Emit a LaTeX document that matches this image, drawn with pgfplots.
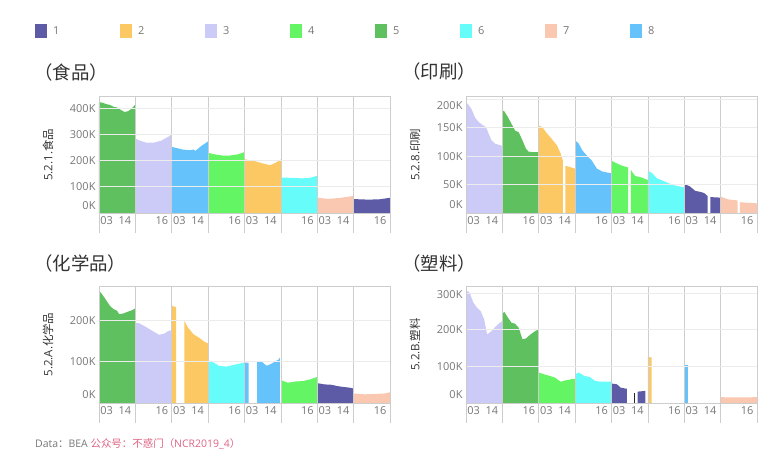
\documentclass[border=0pt]{standalone}
\usepackage{fontspec}
\setmainfont{Open Sans}
\newfontfamily\cjk{Noto Sans CJK SC}
\usepackage{pgfplots}
\pgfplotsset{compat=1.18}
\definecolor{c1}{RGB}{94,91,166}
\definecolor{c2}{RGB}{252,200,100}
\definecolor{c3}{RGB}{204,203,248}
\definecolor{c4}{RGB}{100,245,100}
\definecolor{c5}{RGB}{94,192,94}
\definecolor{c6}{RGB}{102,252,250}
\definecolor{c7}{RGB}{250,200,176}
\definecolor{c8}{RGB}{102,194,250}
\definecolor{sepgray}{RGB}{205,205,205}
\definecolor{hgrid}{RGB}{236,236,236}
\definecolor{tickgray}{RGB}{118,118,118}
\definecolor{titlegray}{RGB}{50,50,50}
\definecolor{pinkred}{RGB}{222,100,130}
\pgfplotsset{panel/.style={
  scale only axis, width=291bp, height=116.5bp, anchor=south west,
  xmin=0, xmax=8, ymin=0, axis on top, clip=false,
  xtick={0,1,2,3,4,5,6,7,8}, xticklabels={,,,,,,,,},
  xmajorgrids, ymajorgrids,
  major x grid style={draw=sepgray, line width=0.6bp},
  major y grid style={draw=hgrid, line width=0.6bp},
  axis line style={draw=sepgray, line width=0.6bp},
  tick style={draw=none}, major tick length=0pt,
  extra x ticks={0.21,0.71,1.73,2.21,2.71,3.73,4.21,4.71,5.73,6.21,6.71,7.73},
  extra x tick labels={03,14,16,03,14,16,03,14,16,03,14,16},
  extra x tick style={grid=none, tick style={draw=none}},
  extra y tick style={grid=none, tick style={draw=none}},
  ticklabel style={font=\fontsize{11}{13}\selectfont, text=tickgray},
  xticklabel style={yshift=-0.5bp},
  ylabel style={at={(axis description cs:-0.175,0.5)}, anchor=center, rotate=0,
     font=\fontsize{11.5}{13}\selectfont, text=titlegray},
  every axis plot/.append style={draw=none},
}}
\newcommand{\seps}{\pgfplotsinvokeforeach{0,1,2,3,4,5,6,7,8}{\draw[sepgray, line width=0.6bp] (axis cs:##1,0) -- ++(0bp,-20bp);}}
\begin{document}
\begin{tikzpicture}
\path[use as bounding box] (0bp,0bp) rectangle (782bp,465bp);
% legend
\foreach \i/\c in {0/c1,1/c2,2/c3,3/c4,4/c5,5/c6,6/c7,7/c8}{
  \fill[\c] ({(35+85*\i)*1bp},427bp) rectangle ({(47+85*\i)*1bp},441bp);
  \pgfmathtruncatemacro{\n}{\i+1}
  \node[anchor=west, inner sep=0, text=tickgray, font=\fontsize{11}{13}\selectfont] at ({(53+85*\i)*1bp},434bp) {\n};
}
% titles
\node[anchor=west, inner sep=0, text=titlegray, font=\cjk\fontsize{18.5}{20}\selectfont] at (34bp,392bp) {（食品）};
\node[anchor=west, inner sep=0, text=titlegray, font=\cjk\fontsize{18.5}{20}\selectfont] at (402bp,393bp) {（印刷）};
\node[anchor=west, inner sep=0, text=titlegray, font=\cjk\fontsize{18.5}{20}\selectfont] at (34bp,202bp) {（化学品）};
\node[anchor=west, inner sep=0, text=titlegray, font=\cjk\fontsize{18.5}{20}\selectfont] at (402bp,202bp) {（塑料）};
% footer
\node[anchor=west, inner sep=0, font=\fontsize{10.5}{12}\selectfont] at (35bp,21bp) {\textcolor{tickgray}{Data{\cjk ：}BEA} \textcolor{pinkred}{{\cjk 公众号：不惑门（}NCR2019\_4{\cjk ）}}};

% ---------- Top-left: food
\begin{axis}[panel, at={(99bp,252bp)}, ymax=444,
  ytick={100,200,300,400}, yticklabels={100K,200K,300K,,},
  extra y ticks={30,397}, extra y tick labels={0K,400K},
  ylabel={5.2.1.{\cjk 食品}}]
\addplot[fill=c5] coordinates {(0,423)(0.1,420)(0.2,415)(0.3,412)(0.4,405)(0.5,402)(0.6,393)(0.7,385)(0.8,388)(0.9,398)(1,414)} \closedcycle;
\addplot[fill=c3] coordinates {(1,284)(1.1,277)(1.3,268)(1.5,268)(1.7,275)(1.9,290)(2,300)} \closedcycle;
\addplot[fill=c8] coordinates {(2,252)(2.3,242)(2.5,239)(2.6,242)(2.65,237)(2.8,254)(3,273)} \closedcycle;
\addplot[fill=c4] coordinates {(3,229)(3.2,223)(3.4,219)(3.6,219)(3.8,223)(4,232)} \closedcycle;
\addplot[fill=c2] coordinates {(4,205)(4.3,197)(4.5,189)(4.7,182)(4.85,191)(5,204)} \closedcycle;
\addplot[fill=c6] coordinates {(5,135)(5.3,134)(5.6,132)(5.8,134)(6,142)} \closedcycle;
\addplot[fill=c7] coordinates {(6,58)(6.3,54)(6.6,57)(6.8,61)(7,65)} \closedcycle;
\addplot[fill=c1] coordinates {(7,53)(7.4,51)(7.7,52)(8,58)} \closedcycle;
\seps
\end{axis}

% ---------- Top-right: printing
\begin{axis}[panel, at={(466bp,252bp)}, ymax=205,
  ytick={50,100,150,200}, yticklabels={50K,100K,150K,,},
  extra y ticks={15,189}, extra y tick labels={0K,200K},
  ylabel={5.2.8.{\cjk 印刷}}]
\addplot[fill=c3] coordinates {(0,194)(0.05,192)(0.15,183)(0.25,168)(0.35,160)(0.45,155)(0.55,151)(0.62,140)(0.7,128)(0.8,122)(0.9,120)(1,118)} \closedcycle;
\addplot[fill=c5] coordinates {(1,180)(1.05,179)(1.15,169)(1.25,157)(1.35,145)(1.45,142)(1.55,128)(1.65,113)(1.72,108)(1.85,107)(2,107)} \closedcycle;
\addplot[fill=c2] coordinates {(2,154)(2.1,151)(2.2,142)(2.35,131)(2.5,119)(2.6,105)(2.66,93)} \closedcycle;
\addplot[fill=c2] coordinates {(2.73,83)(2.85,81)(3,78)} \closedcycle;
\addplot[fill=c8] coordinates {(3,128)(3.1,122)(3.2,110)(3.35,99)(3.45,93)(3.6,78)(3.75,73)(3.9,71)(4,70)} \closedcycle;
\addplot[fill=c4] coordinates {(4,92)(4.15,87)(4.3,83)(4.46,80)} \closedcycle;
\addplot[fill=c4] coordinates {(4.53,76)(4.65,65)(4.8,63)(5,58)} \closedcycle;
\addplot[fill=c6] coordinates {(5,74)(5.1,71)(5.25,61)(5.4,57)(5.55,53)(5.7,49)(5.85,47)(6,45)} \closedcycle;
\addplot[fill=c1] coordinates {(6,51)(6.15,47)(6.3,39)(6.45,37)(6.55,35)(6.64,30)} \closedcycle;
\addplot[fill=c1] coordinates {(6.72,28)(7,27)} \closedcycle;
\addplot[fill=c7] coordinates {(7,29)(7.2,24)(7.47,22)} \closedcycle;
\addplot[fill=c7] coordinates {(7.53,19)(8,17)} \closedcycle;
\seps
\end{axis}

% ---------- Bottom-left: chemicals
\begin{axis}[panel, at={(99bp,62bp)}, height=117bp, ymax=283,
  ytick={100,200}, yticklabels={100K,200K},
  extra y ticks={21}, extra y tick labels={0K},
  ylabel={5.2.A.{\cjk 化学品}}]
\addplot[fill=c5] coordinates {(0,271)(0.05,267)(0.15,255)(0.3,235)(0.4,227)(0.5,223)(0.55,215)(0.65,216)(0.8,221)(0.9,224)(1,229)} \closedcycle;
\addplot[fill=c3] coordinates {(1,194)(1.1,193)(1.25,186)(1.4,178)(1.55,170)(1.65,165)(1.8,168)(1.9,174)(2,176)} \closedcycle;
\addplot[fill=c2] coordinates {(2,235)(2.12,232)} \closedcycle;
\addplot[fill=c2] coordinates {(2.35,198)(2.45,182)(2.6,166)(2.75,158)(2.9,148)(3,144)} \closedcycle;
\addplot[fill=c6] coordinates {(3,103)(3.15,98)(3.3,90)(3.5,88)(3.7,92)(3.85,95)(4,98)} \closedcycle;
\addplot[fill=c8] coordinates {(4,98)(4.11,97)} \closedcycle;
\addplot[fill=c8] coordinates {(4.35,100)(4.45,102)(4.55,94)(4.62,90)(4.8,98)(4.95,106)(4.97,110)} \closedcycle;
\addplot[fill=c4] coordinates {(5,55)(5.2,49)(5.4,52)(5.6,53)(5.8,57)(6,63)} \closedcycle;
\addplot[fill=c1] coordinates {(6,48)(6.2,45)(6.4,44)(6.55,41)(6.7,39)(6.9,37)(7,35)} \closedcycle;
\addplot[fill=c7] coordinates {(7,23)(7.3,21)(7.6,22)(7.85,23)(8,26)} \closedcycle;
\seps
\end{axis}

% ---------- Bottom-right: plastics
\begin{axis}[panel, at={(466bp,62bp)}, height=117bp, ymax=319,
  ytick={100,200,300}, yticklabels={100K,200K,,},
  extra y ticks={24,296}, extra y tick labels={0K,300K},
  ylabel={5.2.B.{\cjk 塑料}}]
\addplot[fill=c3] coordinates {(0,301)(0.05,305)(0.1,301)(0.2,274)(0.3,260)(0.4,251)(0.5,228)(0.58,187)(0.7,196)(0.8,207)(0.9,216)(1,224)} \closedcycle;
\addplot[fill=c5] coordinates {(1,242)(1.05,249)(1.15,233)(1.25,219)(1.35,216)(1.45,205)(1.55,174)(1.65,176)(1.75,185)(1.9,196)(2,201)} \closedcycle;
\addplot[fill=c4] coordinates {(2,83)(2.15,78)(2.3,74)(2.45,69)(2.6,58)(2.75,62)(2.9,65)(3,66)} \closedcycle;
\addplot[fill=c6] coordinates {(3,78)(3.1,83)(3.25,74)(3.4,71)(3.55,60)(3.7,58)(3.85,58)(4,58)} \closedcycle;
\addplot[fill=c1] coordinates {(4,53)(4.15,51)(4.25,42)(4.4,39)(4.42,39)} \closedcycle;
\addplot[fill=black!85] coordinates {(4.61,28)(4.625,28)} \closedcycle;
\addplot[fill=c1] coordinates {(4.72,31)(4.93,33)} \closedcycle;
\addplot[fill=c2] coordinates {(5,126)(5.1,124)} \closedcycle;
\addplot[fill=c8] coordinates {(6,104)(6.11,104)} \closedcycle;
\addplot[fill=c7] coordinates {(7,16)(7.3,15)(7.6,15)(8,16)} \closedcycle;
\seps
\end{axis}
\end{tikzpicture}
\end{document}
